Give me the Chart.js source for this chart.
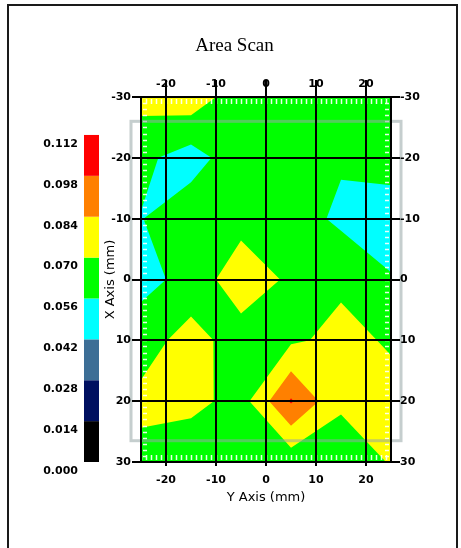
<!DOCTYPE html>
<html>
<head>
<meta charset="utf-8">
<title>Area Scan</title>
<script src="https://cdn.jsdelivr.net/npm/chart.js@4.4.0/dist/chart.umd.min.js"></script>
<style>
  html, body { margin: 0; padding: 0; background: #fff; }
  #frame { position: absolute; left: 7px; top: 4px; width: 447px; height: 580px; border: 2px solid #1a1a1a; }
  #wrap { position: absolute; left: 0; top: 0; width: 461px; height: 548px; }
</style>
</head>
<body>
<div id="frame"></div>
<div id="wrap"><canvas id="myChart" width="461" height="548"></canvas></div>
<script>
"use strict";
// grid columns along "Y Axis (mm)" and rows along "X Axis (mm)"
const cols = [-25, -15, -5, 5, 15, 25];
const rows = [-30, -20, -10, 0, 10, 20, 30];
// measured values, one row per X position
const row0 = [0.0748, 0.0788, 0.0612, 0.0630, 0.0640, 0.0620];
const row1 = [0.0594, 0.0496, 0.0652, 0.0640, 0.0577, 0.0609];
const row2 = [0.0555, 0.0656, 0.0644, 0.0633, 0.0530, 0.0500];
const row3 = [0.0520, 0.0600, 0.0800, 0.0672, 0.0680, 0.0568];
const row4 = [0.0628, 0.0764, 0.0621, 0.0680, 0.0733, 0.0687];
const row5 = [0.0739, 0.0750, 0.0640, 0.0995, 0.0715, 0.0740];
const row6 = [0.0650, 0.0571, 0.0630, 0.0610, 0.0647, 0.0706];
const values = [row0, row1, row2, row3, row4, row5, row6];

const levels = [0.000, 0.014, 0.028, 0.042, 0.056, 0.070, 0.084, 0.098, 0.112];
const bandColors = ["#000000", "#001060", "#3c6e96", "#00ffff", "#00ff00", "#ffff00", "#ff8000", "#ff0000"];
const yAxisTicks = [-20, -10, 0, 10, 20];
const xAxisTicks = [-30, -20, -10, 0, 10, 20, 30];
// scan area outline (mm)
const scanY = [-27, 27];
const scanX = [-26, 26.5];

const nodes = [];
rows.forEach((xv, r) => cols.forEach((yv, c) => nodes.push({ x: yv, y: xv, v: values[r][c] })));

const tickFont = { family: "DejaVu Sans", size: 11, weight: "bold" };
const axisFont = { family: "DejaVu Sans", size: 13 };

// keep the part of a polygon where value >= level
function clip(poly, level) {
  const out = [];
  for (let i = 0; i < poly.length; i++) {
    const a = poly[i], b = poly[(i + 1) % poly.length];
    const ina = a.v >= level, inb = b.v >= level;
    if (ina) out.push(a);
    if (ina !== inb) {
      const t = (level - a.v) / (b.v - a.v);
      out.push({ x: a.x + t * (b.x - a.x), y: a.y + t * (b.y - a.y), v: level });
    }
  }
  return out;
}

const contour = {
  id: "contour",
  beforeDraw(chart) {
    const { ctx, chartArea: a } = chart;
    const sx = chart.scales.x, sy = chart.scales.y;
    const data = chart.data.datasets[0].data;
    const nc = cols.length;
    const node = (c, r) => data[r * nc + c];
    ctx.save();
    ctx.beginPath();
    ctx.rect(a.left, a.top, a.width, a.height);
    ctx.clip();
    for (let k = 0; k < levels.length - 1; k++) {
      const lvl = levels[k];
      const hi = p => p.v >= lvl;
      ctx.beginPath();
      for (let r = 0; r < rows.length - 1; r++) {
        for (let c = 0; c < nc - 1; c++) {
          const tl = node(c, r), tr = node(c + 1, r), br = node(c + 1, r + 1), bl = node(c, r + 1);
          let parts = [[tl, tr, br, bl]];
          // saddle: keep the high corners apart
          if (hi(tl) === hi(br) && hi(tr) === hi(bl) && hi(tl) !== hi(tr)) {
            parts = hi(tl) ? [[tl, tr, bl], [tr, br, bl]] : [[tl, tr, br], [tl, br, bl]];
          }
          parts.forEach(p => {
            const poly = clip(p, lvl);
            if (poly.length < 3) return;
            poly.forEach((q, i) => {
              const px = sx.getPixelForValue(q.x), py = sy.getPixelForValue(q.y);
              if (i) ctx.lineTo(px, py); else ctx.moveTo(px, py);
            });
            ctx.closePath();
          });
        }
      }
      ctx.fillStyle = bandColors[k];
      ctx.fill();
    }
    // small white marks every mm along the inside of the frame
    ctx.strokeStyle = "rgba(255,255,255,0.9)";
    ctx.lineWidth = 1.5;
    ctx.beginPath();
    for (let v = Math.ceil(sx.min); v <= sx.max; v++) {
      const px = Math.round(sx.getPixelForValue(v)) + 0.5;
      ctx.moveTo(px, a.top + 2); ctx.lineTo(px, a.top + 7);
      ctx.moveTo(px, a.bottom - 2); ctx.lineTo(px, a.bottom - 7);
    }
    for (let v = Math.ceil(sy.min); v <= sy.max; v++) {
      const py = Math.round(sy.getPixelForValue(v)) + 0.5;
      ctx.moveTo(a.left + 2, py); ctx.lineTo(a.left + 6, py);
      ctx.moveTo(a.right - 2, py); ctx.lineTo(a.right - 6, py);
    }
    ctx.stroke();
    ctx.restore();

    // scan area outline
    ctx.save();
    ctx.strokeStyle = "rgba(150,165,165,0.55)";
    ctx.lineWidth = 3;
    const x0 = sx.getPixelForValue(scanY[0]), x1 = sx.getPixelForValue(scanY[1]);
    const y0 = sy.getPixelForValue(scanX[0]), y1 = sy.getPixelForValue(scanX[1]);
    ctx.strokeRect(x0, y0, x1 - x0, y1 - y0);
    ctx.restore();

    // colour key
    const cb = chart.scales.cb;
    for (let k = 0; k < levels.length - 1; k++) {
      const top = cb.getPixelForValue(levels[k + 1]), bot = cb.getPixelForValue(levels[k]);
      ctx.fillStyle = bandColors[k];
      ctx.fillRect(cb.right - 15, top, 15, bot - top);
    }
  }
};

const gridOpts = { color: "#000", lineWidth: 2 };
const borderOpts = { color: "#000", width: 2 };

const ctx = document.getElementById("myChart").getContext("2d");
const myChart = new Chart(ctx, {
  type: "scatter",
  data: {
    datasets: [{ label: "Area Scan", data: nodes, pointRadius: 0, pointHoverRadius: 0 }],
  },
  options: {
    responsive: false,
    animation: false,
    devicePixelRatio: 1,
    events: [],
    layout: { padding: { left: 18, right: 10, top: 0, bottom: 40 } },
    plugins: {
      legend: { display: false },
      tooltip: { enabled: false },
      title: {
        display: true,
        text: "Area Scan",
        color: "#000",
        font: { family: "Liberation Serif", size: 19, weight: "normal" },
        padding: { top: 34.6, bottom: 7.6 },
      },
    },
    scales: {
      x: {
        type: "linear", position: "bottom", min: -25, max: 25,
        afterBuildTicks: s => { s.ticks = yAxisTicks.map(v => ({ value: v })); },
        afterFit: s => { s.height = 46; },
        grid: { ...gridOpts, tickLength: 4 },
        border: borderOpts,
        ticks: { color: "#000", font: tickFont, padding: 7.4, maxRotation: 0 },
        title: { display: true, text: "Y Axis (mm)", color: "#000", font: axisFont, padding: { top: 0, bottom: 2.2 } },
      },
      x2: {
        type: "linear", axis: "x", position: "top", min: -25, max: 25,
        afterBuildTicks: s => { s.ticks = yAxisTicks.map(v => ({ value: v })); },
        afterFit: s => { s.height = 32; },
        grid: { ...gridOpts, tickLength: 17, drawOnChartArea: false },
        border: borderOpts,
        ticks: { color: "#000", font: tickFont, padding: -11.1, maxRotation: 0 },
      },
      y: {
        type: "linear", position: "left", min: -30, max: 30, reverse: true,
        afterBuildTicks: s => { s.ticks = xAxisTicks.map(v => ({ value: v })); },
        afterFit: s => { s.width = 42; },
        grid: { ...gridOpts, tickLength: 9 },
        border: borderOpts,
        ticks: { color: "#000", font: tickFont, padding: 1 },
        title: { display: true, text: "X Axis (mm)", color: "#000", font: axisFont, padding: { top: 4.2, bottom: 0 } },
      },
      y2: {
        type: "linear", axis: "y", position: "right", min: -30, max: 30, reverse: true,
        afterBuildTicks: s => { s.ticks = xAxisTicks.map(v => ({ value: v })); },
        afterFit: s => { s.width = 60; },
        grid: { ...gridOpts, tickLength: 9, drawOnChartArea: false },
        border: borderOpts,
        ticks: { color: "#000", font: tickFont, padding: 0 },
      },
      cb: {
        type: "linear", axis: "y", position: "left", weight: 10, min: 0, max: 0.125,
        afterBuildTicks: s => { s.ticks = levels.map(v => ({ value: v })); },
        afterFit: s => { s.width = 81; },
        grid: { display: false, drawTicks: false },
        border: { display: false },
        ticks: { color: "#000", font: tickFont, padding: 21, labelOffset: 9, callback: v => v.toFixed(3) },
      },
    },
  },
  plugins: [contour],
});
</script>
</body>
</html>
